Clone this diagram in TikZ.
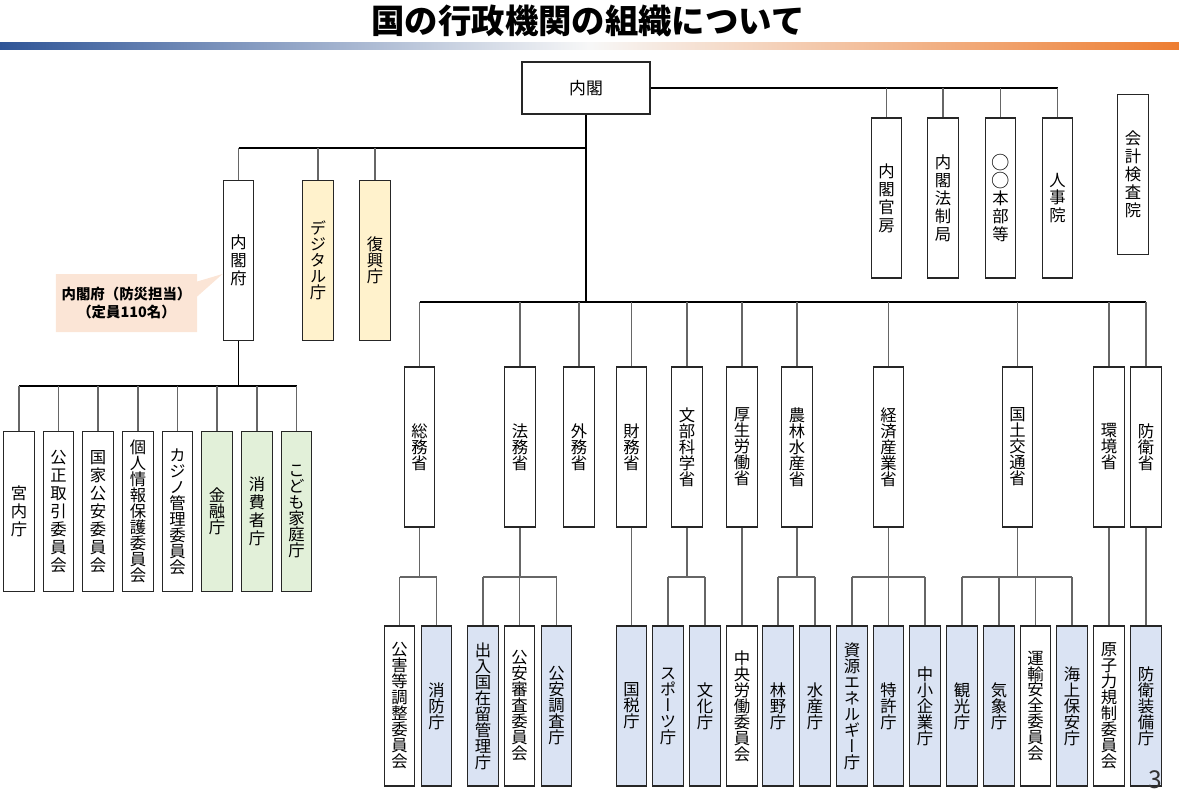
\documentclass[tikz,border=0pt]{standalone}
\usepackage{fontspec}
\usepackage{tikz}
\usetikzlibrary{shapes.callouts}
\newfontfamily\jp{Noto Sans CJK JP}
\newfontfamily\jpv[RawFeature=+vert]{Noto Sans CJK JP}
\definecolor{barblue}{RGB}{47,85,151}
\definecolor{barorange}{RGB}{237,125,49}
\definecolor{softblue}{RGB}{218,227,243}
\definecolor{softgreen}{RGB}{226,240,217}
\definecolor{softyellow}{RGB}{255,242,204}
\definecolor{softpink}{RGB}{251,229,214}
\lineskiplimit=-\maxdimen
\newcommand{\marucirc}{\scalebox{1.12}{○}}

\begin{document}
\begin{tikzpicture}[x=0.2mm, y=-0.2mm,
  org/.style={draw=black!85, line width=0.8pt, fill=white, minimum width=6.1mm,
    minimum height=32mm, inner sep=0pt, align=center,
    font=\jpv\fontsize{9.3}{9.1}\selectfont},
  loose/.style={font=\jpv\fontsize{9.3}{10.2}\selectfont},
  agency/.style={org, fill=softblue},
  trunk/.style={black, line width=0.9pt},
  link/.style={black!60, line width=0.6pt}]
  \useasboundingbox (0,0) rectangle (1179,795);

  % Title
  \node[font=\jp\bfseries\fontsize{19}{22}\selectfont] (title) at (588,21) {国の行政機関の組織について};
  \shade[left color=barblue, right color=barorange, middle color=black!3] (0,43) rectangle (1179,50);

  % Cabinet
  \node[org, minimum width=25.6mm, minimum height=10.4mm, font=\jp\fontsize{9.6}{11}\selectfont] (naikaku) at (586,88) {内閣};
  \node[org, loose] (kanbou) at (886.5,198) {内\\閣\\官\\房};
  \node[org, loose] (housei) at (943,198) {内\\閣\\法\\制\\局};
  \node[org, loose] (honbu) at (1000.5,198) {\marucirc\\\marucirc\\本\\部\\等};
  \node[org, loose] (jinji) at (1057.5,198) {人\\事\\院};
  \node[org, loose] (kensa) at (1133,174.5) {会\\計\\検\\査\\院};

  % Cabinet office and agencies
  \node[org, loose] (naikakufu) at (238.5,260.5) {内\\閣\\府};
  \node[org, fill=softyellow] (digital) at (318,260.5) {デ\\ジ\\タ\\ル\\庁};
  \node[org, fill=softyellow] (fukkou) at (375,260.5) {復\\興\\庁};
  \node[rectangle callout, fill=softpink, minimum width=28.2mm, minimum height=11.6mm,
    callout absolute pointer={(naikakufu.west |- 0,274)}, callout pointer width=3mm,
    align=center, font=\jp\bfseries\fontsize{8.2}{10}\selectfont] (bousai) at (126.5,303)
    {内閣府（防災担当）\\（定員110名）};

  \node[org, loose] (kunai) at (19,511.5) {宮\\内\\庁};
  \node[org, loose] (kotori) at (58.5,511.5) {公\\正\\取\\引\\委\\員\\会};
  \node[org, loose] (kokko) at (98,511.5) {国\\家\\公\\安\\委\\員\\会};
  \node[org] (kojin) at (138,511.5) {個\\人\\情\\報\\保\\護\\委\\員\\会};
  \node[org] (casino) at (177.5,511.5) {カ\\ジ\\ノ\\管\\理\\委\\員\\会};
  \node[org, fill=softgreen] (kinyu) at (217,511.5) {金\\融\\庁};
  \node[org, loose, fill=softgreen] (shohi) at (257,511.5) {消\\費\\者\\庁};
  \node[org, fill=softgreen] (kodomo) at (296.5,511.5) {こ\\ど\\も\\家\\庭\\庁};

  % Ministries
  \node[org] (soumu) at (419.5,447) {総\\務\\省};
  \node[org] (houmu) at (520,447) {法\\務\\省};
  \node[org] (gaimu) at (579,447) {外\\務\\省};
  \node[org] (zaimu) at (631.5,447) {財\\務\\省};
  \node[org] (monka) at (687,447) {文\\部\\科\\学\\省};
  \node[org] (kourou) at (742,447) {厚\\生\\労\\働\\省};
  \node[org] (nousui) at (797,447) {農\\林\\水\\産\\省};
  \node[org] (keisan) at (888.5,447) {経\\済\\産\\業\\省};
  \node[org] (kokkou) at (1017.5,447) {国\\土\\交\\通\\省};
  \node[org] (kankyo) at (1109,447) {環\\境\\省};
  \node[org] (bouei) at (1146,447) {防\\衛\\省};

  % External bodies
  \node[org] (kougai) at (399.5,706) {公\\害\\等\\調\\整\\委\\員\\会};
  \node[agency] (shoubou) at (436.5,706) {消\\防\\庁};
  \node[agency] (nyukan) at (483,706) {出\\入\\国\\在\\留\\管\\理\\庁};
  \node[org] (shinsa) at (519.5,706) {公\\安\\審\\査\\委\\員\\会};
  \node[agency] (kouan) at (556.5,706) {公\\安\\調\\査\\庁};
  \node[agency] (kokuzei) at (631.5,706) {国\\税\\庁};
  \node[agency] (sports) at (668,706) {ス\\ポ\\ー\\ツ\\庁};
  \node[agency] (bunka) at (705,706) {文\\化\\庁};
  \node[org] (chuurou) at (742,706) {中\\央\\労\\働\\委\\員\\会};
  \node[agency] (rinya) at (778,706) {林\\野\\庁};
  \node[agency] (suisan) at (815,706) {水\\産\\庁};
  \node[agency] (energy) at (852,706) {資\\源\\エ\\ネ\\ル\\ギ\\ー\\庁};
  \node[agency] (tokkyo) at (888.5,706) {特\\許\\庁};
  \node[agency] (chusho) at (925,706) {中\\小\\企\\業\\庁};
  \node[agency] (kanko) at (962,706) {観\\光\\庁};
  \node[agency] (kisho) at (999,706) {気\\象\\庁};
  \node[org] (unyu) at (1035.5,706) {運\\輸\\安\\全\\委\\員\\会};
  \node[agency] (kaiho) at (1072,706) {海\\上\\保\\安\\庁};
  \node[org] (genshi) at (1109,706) {原\\子\\力\\規\\制\\委\\員\\会};
  \node[agency] (soubi) at (1146,706) {防\\衛\\装\\備\\庁};

  \node[font=\jp\fontsize{14}{14}\selectfont, text=black!80] (page) at (1155,780) {3};

  % Lines
  \coordinate (cbus) at (586,148);
  \coordinate (mbus) at (586,302);
  \coordinate (fbus) at (238.5,386);
  \coordinate (sbus) at (0,577);

  \draw[trunk] (naikaku.south) -- (mbus);
  \draw[trunk] (naikaku.east) -- (jinji.north |- naikaku.east);
  \foreach \n in {kanbou,housei,honbu,jinji}
    \draw[link] (\n.north |- naikaku.east) -- (\n.north);

  \draw[trunk] (naikakufu.north |- cbus) -- (cbus);
  \foreach \n in {naikakufu,digital,fukkou}
    \draw[link] (\n.north |- cbus) -- (\n.north);

  \draw[trunk] (naikakufu.south) -- (fbus);
  \draw[trunk] (kunai.north |- fbus) -- (kodomo.north |- fbus);
  \foreach \n in {kunai,kotori,kokko,kojin,casino,kinyu,shohi,kodomo}
    \draw[link] (\n.north |- fbus) -- (\n.north);

  \draw[trunk] (soumu.north |- mbus) -- (bouei.north |- mbus);
  \foreach \n in {soumu,houmu,gaimu,zaimu,monka,kourou,nousui,keisan,kokkou,kankyo,bouei}
    \draw[link] (\n.north |- mbus) -- (\n.north);

  \foreach \p/\a/\b in {soumu/kougai/shoubou, houmu/nyukan/kouan, monka/sports/bunka,
      nousui/rinya/suisan, keisan/energy/chusho, kokkou/kanko/kaiho} {
    \draw[link] (\p.south) -- (\p.south |- sbus);
    \draw[link] (\a.north |- sbus) -- (\b.north |- sbus);
  }
  \foreach \n in {kougai,shoubou,nyukan,shinsa,kouan,sports,bunka,rinya,suisan,
      energy,tokkyo,chusho,kanko,kisho,unyu,kaiho}
    \draw[link] (\n.north |- sbus) -- (\n.north);
  \foreach \p/\c in {zaimu/kokuzei, kourou/chuurou, kankyo/genshi, bouei/soubi}
    \draw[link] (\p.south) -- (\c.north);
\end{tikzpicture}
\end{document}
